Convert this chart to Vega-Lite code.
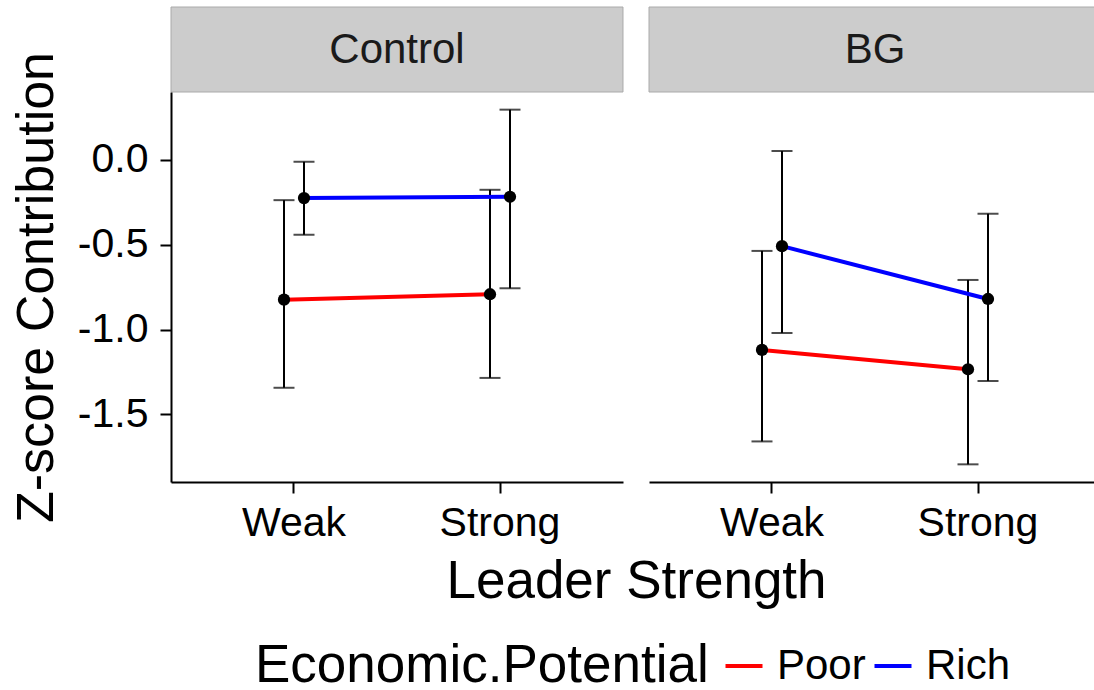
{
  "$schema": "https://vega.github.io/schema/vega-lite/v6.json",
  "padding": {"left": 10, "top": 6, "right": 0, "bottom": 0},
  "background": "white",
  "config": {
    "font": "Liberation Sans",
    "view": {"stroke": null},
    "axis": {"labelColor": "black", "titleColor": "black", "domainColor": "black", "tickColor": "black", "domainWidth": 2, "tickWidth": 2, "tickSize": 11, "grid": false, "labelFontSize": 41, "titleFontSize": 52, "titleFontWeight": "normal", "labelFont": "Liberation Sans", "titleFont": "Liberation Sans"}
  },
  "datasets": {
    "stats": [
      {"Condition": "Control", "Strength": "Weak", "Econ": "Poor", "mean": -0.824, "lo": -1.343, "hi": -0.238},
      {"Condition": "Control", "Strength": "Weak", "Econ": "Rich", "mean": -0.226, "lo": -0.442, "hi": -0.012},
      {"Condition": "Control", "Strength": "Strong", "Econ": "Poor", "mean": -0.792, "lo": -1.285, "hi": -0.177},
      {"Condition": "Control", "Strength": "Strong", "Econ": "Rich", "mean": -0.218, "lo": -0.757, "hi": 0.295},
      {"Condition": "BG", "Strength": "Weak", "Econ": "Poor", "mean": -1.120, "lo": -1.659, "hi": -0.537},
      {"Condition": "BG", "Strength": "Weak", "Econ": "Rich", "mean": -0.509, "lo": -1.020, "hi": 0.051},
      {"Condition": "BG", "Strength": "Strong", "Econ": "Poor", "mean": -1.234, "lo": -1.794, "hi": -0.708},
      {"Condition": "BG", "Strength": "Strong", "Econ": "Rich", "mean": -0.820, "lo": -1.303, "hi": -0.318}
    ],
    "panels": [{"Condition": "Control"}, {"Condition": "BG"}]
  },
  "spacing": 0,
  "bounds": "flush",
  "resolve": {"scale": {"x": "independent", "xOffset": "independent"}, "axis": {"x": "independent"}},
  "vconcat": [
    {
      "data": {"name": "panels"},
      "width": 930, "height": 85,
      "encoding": {
        "x": {"field": "Condition", "type": "nominal", "scale": {"type": "band", "domain": ["Control", "BG"], "paddingInner": 0.0544, "paddingOuter": 0}, "axis": null}
      },
      "layer": [
        {"mark": {"type": "rect", "fill": "#cccccc", "stroke": "#aaaaaa", "strokeWidth": 1}},
        {"mark": {"type": "text", "fontSize": 42, "color": "#1a1a1a", "baseline": "middle", "font": "Liberation Sans"},
         "encoding": {"text": {"field": "Condition", "type": "nominal"}}}
      ]
    },
    {
      "spacing": 26,
      "bounds": "flush",
      "resolve": {"scale": {"x": "independent", "xOffset": "independent"}, "axis": {"x": "independent"}},
      "hconcat": [
        {
          "data": {"name": "stats"},
          "transform": [{"filter": "datum.Condition === 'Control'"}],
          "width": 452, "height": 390,
          "encoding": {
            "x": {"field": "Strength", "type": "nominal", "scale": {"domain": ["Weak", "Strong"], "paddingInner": 0.9029, "paddingOuter": 0.5485}, "axis": {"labelAngle": 0, "labelPadding": 10, "title": "Leader Strength", "titleFontSize": 53, "titleX": 465, "titlePadding": 12}},
            "xOffset": {"field": "Econ", "type": "nominal", "scale": {"type": "point", "padding": 0, "domain": ["Poor", "Rich"]}}
          },
          "layer": [
            {"mark": {"type": "rule", "strokeWidth": 2, "color": "black"},
             "encoding": {"y": {"field": "lo", "type": "quantitative", "scale": {"domain": [-1.898, 0.399], "nice": false, "zero": false}, "axis": {"values": [0, -0.5, -1, -1.5], "labelExpr": "replace(format(datum.value, '.1f'), '\u2212', '-')", "labelPadding": 12, "title": "Z-score Contribution", "titlePadding": 14}}, "y2": {"field": "hi"}}},
            {"mark": {"type": "tick", "orient": "horizontal", "size": 21, "thickness": 2, "color": "black"},
             "encoding": {"y": {"field": "lo", "type": "quantitative"}}},
            {"mark": {"type": "tick", "orient": "horizontal", "size": 21, "thickness": 2, "color": "black"},
             "encoding": {"y": {"field": "hi", "type": "quantitative"}}},
            {"mark": {"type": "line", "strokeWidth": 4},
             "encoding": {"y": {"field": "mean", "type": "quantitative"},
               "color": {"field": "Econ", "type": "nominal", "scale": {"domain": ["Poor", "Rich"], "range": ["#ff0000", "#0000ff"]},
                 "legend": {"orient": "none", "legendX": 84, "legendY": 638, "direction": "horizontal", "title": "Economic.Potential", "titleOrient": "left", "titleFontSize": 53, "titleFontWeight": "normal", "titleColor": "black", "titleFont": "Liberation Sans", "titleLimit": 1000, "labelLimit": 500, "labelFontSize": 42, "labelColor": "black", "labelFont": "Liberation Sans", "symbolType": "stroke", "symbolStrokeWidth": 4, "symbolSize": 1369, "labelOffset": 12, "columnPadding": 0, "titlePadding": 14}}}},
            {"mark": {"type": "point", "filled": true, "size": 150, "color": "black", "opacity": 1},
             "encoding": {"y": {"field": "mean", "type": "quantitative"}}}
          ]
        },
        {
          "data": {"name": "stats"},
          "transform": [{"filter": "datum.Condition === 'BG'"}],
          "width": 452, "height": 390,
          "encoding": {
            "x": {"field": "Strength", "type": "nominal", "scale": {"domain": ["Weak", "Strong"], "paddingInner": 0.9029, "paddingOuter": 0.5485}, "axis": {"labelAngle": 0, "labelPadding": 10, "title": null}},
            "xOffset": {"field": "Econ", "type": "nominal", "scale": {"type": "point", "padding": 0, "domain": ["Poor", "Rich"]}}
          },
          "layer": [
            {"mark": {"type": "rule", "strokeWidth": 2, "color": "black"},
             "encoding": {"y": {"field": "lo", "type": "quantitative", "scale": {"domain": [-1.898, 0.399], "nice": false, "zero": false}, "axis": null}, "y2": {"field": "hi"}}},
            {"mark": {"type": "tick", "orient": "horizontal", "size": 21, "thickness": 2, "color": "black"},
             "encoding": {"y": {"field": "lo", "type": "quantitative"}}},
            {"mark": {"type": "tick", "orient": "horizontal", "size": 21, "thickness": 2, "color": "black"},
             "encoding": {"y": {"field": "hi", "type": "quantitative"}}},
            {"mark": {"type": "line", "strokeWidth": 4},
             "encoding": {"y": {"field": "mean", "type": "quantitative"},
               "color": {"field": "Econ", "type": "nominal", "scale": {"domain": ["Poor", "Rich"], "range": ["#ff0000", "#0000ff"]}}}},
            {"mark": {"type": "point", "filled": true, "size": 150, "color": "black", "opacity": 1},
             "encoding": {"y": {"field": "mean", "type": "quantitative"}}}
          ]
        }
      ]
    }
  ]
}
